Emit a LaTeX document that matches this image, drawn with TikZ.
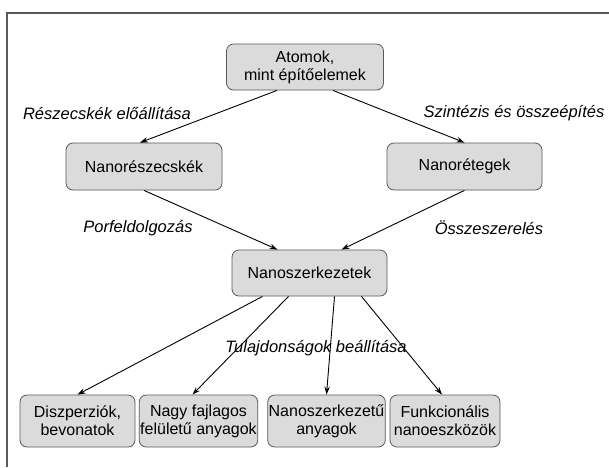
\documentclass[tikz,border=0pt]{standalone}
\usepackage{fontspec}
\setmainfont{Liberation Sans}
\usetikzlibrary{arrows.meta,calc}
\begin{document}
\begin{tikzpicture}[x=1pt,y=-1pt,
  box/.style={draw=black!65, line width=0.8pt, fill=black!14, rounded corners=7pt,
    align=center, inner sep=1pt, font=\fontsize{16}{18}\selectfont},
  lbl/.style={font=\fontsize{16.5}{19}\selectfont\itshape, inner sep=0pt},
  arr/.style={-{Stealth[length=8pt,width=5.5pt]}, line width=0.9pt, black}]
\useasboundingbox (0,0) rectangle (609,467);
\draw[line width=1.3pt, black!65] (7,467) -- (7,13) -- (609,13);
\node[box, minimum width=157pt, minimum height=46pt] (a) at (305,67) {Atomok,\\mint építőelemek};
\node[box, minimum width=156pt, minimum height=47pt] (nr) at (144,166.5) {Nanorészecskék};
\node[box, minimum width=155pt, minimum height=47pt] (nt) at (464.5,166.5) {Nanorétegek};
\node[box, minimum width=155pt, minimum height=46pt] (nsz) at (309.5,273) {Nanoszerkezetek};
\node[box, minimum width=115pt, minimum height=52pt] (b1) at (77.5,421) {Diszperziók,\\bevonatok};
\node[box, minimum width=117pt, minimum height=52pt] (b2) at (198.5,421) {Nagy fajlagos\\felületű anyagok};
\node[box, minimum width=117pt, minimum height=52pt] (b3) at (326.5,421) {Nanoszerkezetű\\anyagok};
\node[box, minimum width=110pt, minimum height=52pt] (b4) at (445,421) {Funkcionális\\nanoeszközök};
\node[lbl] (l1) at (107,113) {Részecskék előállítása};
\node[lbl] (l2) at (514,113) {Szintézis és összeépítés};
\node[lbl] (l3) at (138,228) {Porfeldolgozás};
\node[lbl] (l4) at (489,228) {Összeszerelés};
\node[lbl] (l5) at (316,348) {Tulajdonságok beállítása};
\draw[arr] ($(a.south)+(-28,0)$) -- ($(nr.north)+(-4,0)$);
\draw[arr] ($(a.south)+(28,0)$) -- (nt.north);
\draw[arr] (nr.south) -- ($(nsz.north)+(-32,0)$);
\draw[arr] (nt.south) -- ($(nsz.north)+(32,0)$);
\draw[arr] ($(nsz.south)+(-47,0)$) -- (b1.north);
\draw[arr] ($(nsz.south)+(-21,0)$) -- ($(b2.north)+(-6,0)$);
\draw[arr] ($(nsz.south)+(25,0)$) -- (b3.north);
\draw[arr] ($(nsz.south)+(52,0)$) -- ($(b4.north)+(-3,0)$);
\end{tikzpicture}
\end{document}
